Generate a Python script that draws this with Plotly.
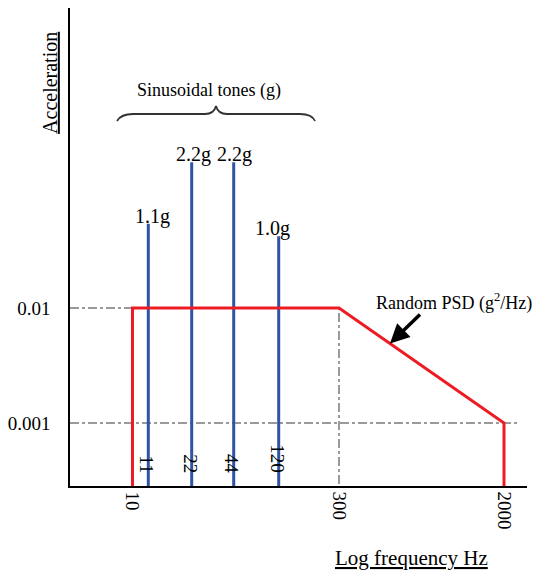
import math
import plotly.graph_objects as go

# ---- data (schematic chart) ----
psd_freq = [10, 10, 300, 2000, 2000]            # Hz
psd_level = [1e-4, 0.01, 0.01, 0.001, 1e-4]      # g^2/Hz (1e-4 = below axis floor)
tone_freq = [11, 22, 44, 120]                    # Hz
tone_amp = ["1.1g", "2.2g", "2.2g", "1.0g"]      # labels
tone_top = [0.054, 0.185, 0.185, 0.042]          # schematic bar heights on the acceleration axis
freq_ticks = [10, 300, 2000]
level_ticks = [0.001, 0.01]

# schematic (not-to-scale) frequency axis positions
freq_scale = {10: 62.5, 11: 78.3, 22: 121.7, 44: 163.7, 120: 208.7, 300: 269.0, 2000: 434.0}
def fx(f):
    return freq_scale[f]

FONT = "Liberation Serif, Times New Roman, serif"
RED = "#ED1C24"
BLUE = "#2F54A6"
GRAY = "#9A9A9A"
FLOOR = 1e-4

fig = go.Figure()

# reference (dash-dot) lines
fig.add_trace(go.Scatter(x=[0, fx(300)], y=[0.01, 0.01], mode="lines",
                         line=dict(color=GRAY, width=2, dash="dashdot"), hoverinfo="skip"))
fig.add_trace(go.Scatter(x=[0, fx(2000) + 13], y=[0.001, 0.001], mode="lines",
                         line=dict(color=GRAY, width=2, dash="dashdot"), hoverinfo="skip"))
fig.add_trace(go.Scatter(x=[fx(300), fx(300)], y=[FLOOR, 0.01], mode="lines",
                         line=dict(color=GRAY, width=2, dash="dashdot"), hoverinfo="skip"))

# sinusoidal tones
for f, top in zip(tone_freq, tone_top):
    fig.add_trace(go.Scatter(x=[fx(f), fx(f)], y=[FLOOR, top], mode="lines",
                             line=dict(color=BLUE, width=3), hoverinfo="skip"))

# random PSD
fig.add_trace(go.Scatter(x=[fx(f) for f in psd_freq], y=psd_level, mode="lines",
                         line=dict(color=RED, width=3), hoverinfo="skip"))

annotations = []
# tone amplitude labels
shifts = [4, 2, 1, -6]
for f, top, lab, s in zip(tone_freq, tone_top, tone_amp, shifts):
    annotations.append(dict(x=fx(f), y=math.log10(top), text=lab, showarrow=False,
                            xanchor="center", yanchor="bottom", xshift=s, yshift=-6,
                            font=dict(family=FONT, size=20, color="black")))
# tone frequency labels (rotated, inside plot)
for f in tone_freq:
    annotations.append(dict(x=fx(f), y=0.022, yref="paper", text=str(f), showarrow=False,
                            textangle=90, xanchor="center", yanchor="bottom", xshift=-2,
                            font=dict(family=FONT, size=19, color="black")))

# arrow to PSD line
x_arrow = 320.0
ly = -2 - (x_arrow - fx(300)) / (fx(2000) - fx(300))
annotations.append(dict(x=x_arrow, y=ly, ax=32, ay=-31, showarrow=True, arrowhead=2,
                        arrowsize=1.1, arrowwidth=3.5, arrowcolor="black", text=" ",
                        font=dict(size=2)))
annotations.append(dict(x=0.840, y=0.385, xref="paper", yref="paper",
                        xanchor="center", yanchor="middle",
                        text="Random PSD (g<sup>2</sup>/Hz)", showarrow=False,
                        font=dict(family=FONT, size=18, color="black")))
annotations.append(dict(x=0.304, y=0.828, xref="paper", yref="paper",
                        xanchor="center", yanchor="middle",
                        text="Sinusoidal tones (g)", showarrow=False,
                        font=dict(family=FONT, size=18, color="black")))
annotations.append(dict(x=-0.044, y=0.843, xref="paper", yref="paper",
                        xanchor="center", yanchor="middle",
                        text="<u>Acceleration</u>", showarrow=False, textangle=-90,
                        font=dict(family=FONT, size=20, color="black")))
annotations.append(dict(x=0.748, y=-0.151, xref="paper", yref="paper",
                        xanchor="center", yanchor="middle",
                        text="<u>Log frequency Hz</u>", showarrow=False,
                        font=dict(family=FONT, size=21, color="black")))

# brace over the tones
def px(p):  # pixel x -> paper
    return (p - 70) / 457
def py(p):  # pixel y -> paper
    return (486 - p) / 478
brace = (f"M {px(117)},{py(121)} Q {px(121)},{py(114)} {px(133)},{py(114)} "
         f"L {px(205)},{py(114)} Q {px(214)},{py(114)} {px(216)},{py(106)} "
         f"Q {px(218)},{py(114)} {px(227)},{py(114)} "
         f"L {px(300)},{py(114)} Q {px(312)},{py(114)} {px(315)},{py(121)}")
shapes = [dict(type="path", path=brace, xref="paper", yref="paper",
               line=dict(color="#333333", width=1.8))]

fig.update_layout(
    width=539, height=571,
    margin=dict(l=70, r=12, t=8, b=85, autoexpand=False),
    paper_bgcolor="white", plot_bgcolor="white",
    showlegend=False,
    annotations=annotations,
    shapes=shapes,
    xaxis=dict(range=[0, 457], showgrid=False, zeroline=False, showline=True,
               linecolor="black", linewidth=1.5, ticks="", automargin=False,
               tickvals=[fx(f) for f in freq_ticks], ticktext=[str(f) for f in freq_ticks],
               tickangle=90, tickfont=dict(family=FONT, size=19, color="black")),
    yaxis=dict(type="log", range=[-3.548, 0.609], showgrid=False, zeroline=False,
               showline=True, linecolor="black", linewidth=1.5, ticks="", automargin=False,
               tickvals=level_ticks, ticktext=["0.001", "0.01"],
               ticklabelstandoff=14,
               tickfont=dict(family=FONT, size=19, color="black")),
)

fig.write_html("out.html", config={"displayModeBar": False},
               post_script="document.body.style.margin='0';document.body.style.overflow='hidden';")
